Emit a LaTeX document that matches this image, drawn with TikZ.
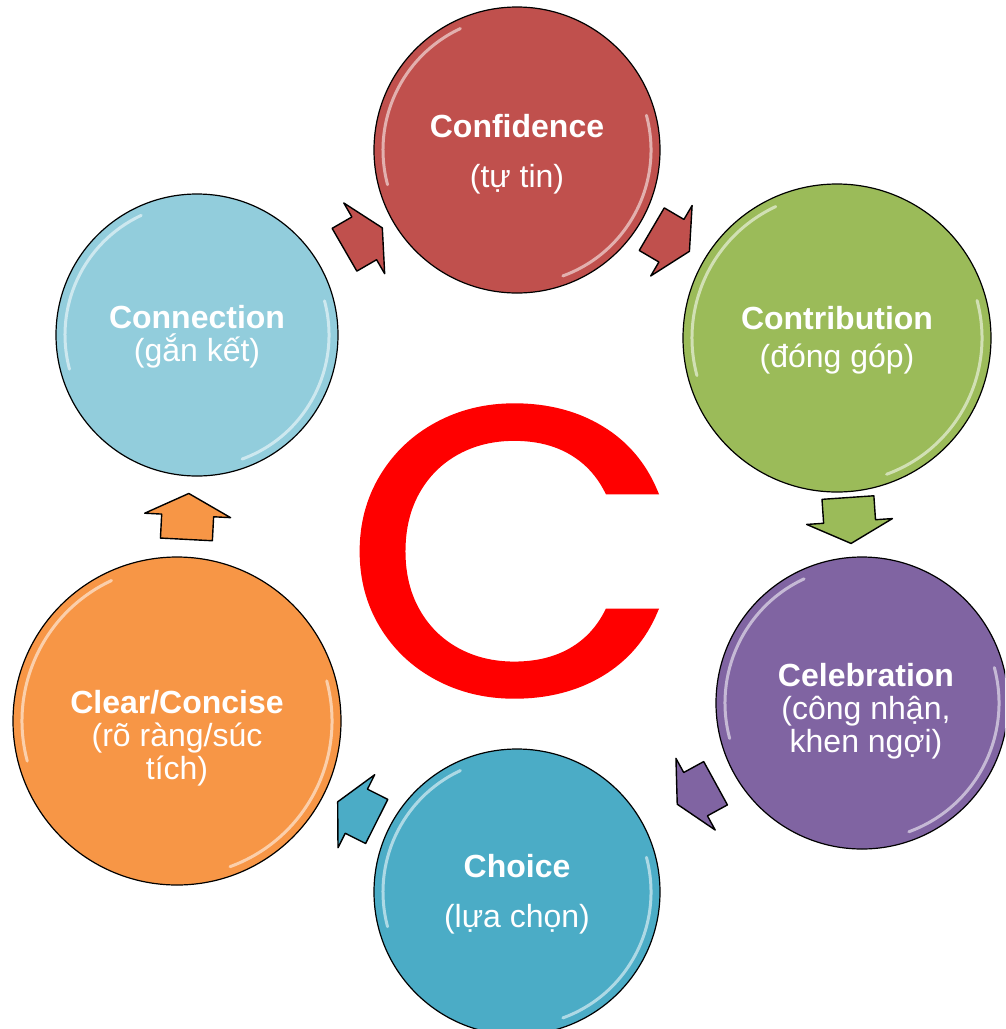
\documentclass[tikz,border=0pt]{standalone}
\usepackage{fontspec}
\setmainfont{Liberation Sans}
\newfontfamily\bigcfont[FakeBold=1.2]{Poppins}
\usepackage{tikz}
\usetikzlibrary{calc}
\definecolor{confred}{HTML}{C0504D}
\definecolor{contrgreen}{HTML}{9BBB59}
\definecolor{celebpurple}{HTML}{8064A2}
\definecolor{choiceblue}{HTML}{4BACC6}
\definecolor{clearorange}{HTML}{F79646}
\definecolor{connblue}{HTML}{92CDDC}
\definecolor{bigred}{RGB}{255, 0, 0}

\begin{document}
\begin{tikzpicture}[
    x=1pt, y=-1pt,
    bubble/.style={circle, draw=black, line width=1.2pt, inner sep=0pt},
    caption/.style={text=white, align=center, inner sep=0pt, font=\fontsize{32}{33}\selectfont},
    gloss/.style={draw=white, opacity=0.55, line width=3pt, line cap=round},
    arrowbox/.style={draw=black, line width=1.4pt, line join=round},
    pics/blockarr/.style={code={
        \draw[pic actions] (-23,-26) -- (1,-26) -- (1,-43) -- (23,0) -- (1,43) -- (1,26) -- (-23,26) -- cycle;}}
]

\clip (0,0) rectangle (1005,1029);

% the six circles
\node[bubble, fill=confred, minimum size=286pt] (conf) at (517,150) {};
\node[bubble, fill=contrgreen, minimum size=308pt] (contr) at (837,338) {};
\node[bubble, fill=celebpurple, minimum size=292pt] (celeb) at (862,703) {};
\node[bubble, fill=choiceblue, minimum size=286pt] (choice) at (517,892) {};
\node[bubble, fill=clearorange, minimum size=328pt] (clear) at (177,721) {};
\node[bubble, fill=connblue, minimum size=282pt] (conn) at (197,335) {};

% shine
\foreach \n/\r in {conf/134, contr/145, celeb/137, choice/134, clear/155, conn/132} {
    \draw[gloss] ([shift={(115:\r pt)}]\n.center) arc[start angle=115, end angle=195, radius=\r pt];
    \draw[gloss] ([shift={(-70:\r pt)}]\n.center) arc[start angle=-70, end angle=15, radius=\r pt];
}

% texts
\node[caption] (conftxt) at ([yshift=-4pt]conf.center) {\textbf{Confidence}\\[17pt](tự tin)};
\node[caption] (contrtxt) at ([yshift=-2pt]contr.center) {\textbf{Contribution}\\[5pt](đóng góp)};
\node[caption] (celebtxt) at ([xshift=4pt, yshift=-8pt]celeb.center) {\textbf{Celebration}\\(công nhận,\\khen ngợi)};
\node[caption] (choicetxt) at ([yshift=-2pt]choice.center) {\textbf{Choice}\\[17pt](lựa chọn)};
\node[caption] (cleartxt) at ([yshift=-17pt]clear.center) {\textbf{Clear/Concise}\\(rõ ràng/súc\\tích)};
\node[caption] (conntxt) at ([yshift=-2pt]conn.center) {\textbf{Connection}\\(gắn kết)};

% block arrows between the circles
\path let \p1 = ($(conf)-(conn)$), \n1 = {atan2(\y1,\x1)} in
    ($(conn)!0.52!(conf)$) pic[rotate=\n1, scale=0.95, arrowbox, fill=confred] {blockarr};
\path let \p1 = ($(contr)-(conf)$), \n1 = {atan2(\y1,\x1)} in
    ($(conf)!0.48!(contr)$) pic[rotate=\n1, scale=0.95, arrowbox, fill=confred] {blockarr};
\path let \p1 = ($(celeb)-(contr)$), \n1 = {atan2(\y1,\x1)} in
    ($(contr)!0.5!(celeb)$) pic[rotate=\n1, arrowbox, fill=contrgreen] {blockarr};
\path let \p1 = ($(choice)-(celeb)$), \n1 = {atan2(\y1,\x1)} in
    ($(celeb)!0.48!(choice)$) pic[rotate=\n1, scale=0.95, arrowbox, fill=celebpurple] {blockarr};
\path let \p1 = ($(clear)-(choice)$), \n1 = {atan2(\y1,\x1)} in
    ($(choice)!0.47!(clear)$) pic[rotate=\n1, scale=0.95, arrowbox, fill=choiceblue] {blockarr};
\path let \p1 = ($(conn)-(clear)$), \n1 = {atan2(\y1,\x1)} in
    ($(clear)!0.53!(conn)$) pic[rotate=\n1, arrowbox, fill=clearorange] {blockarr};

% big letter in the middle
\node[text=bigred, inner sep=0pt, xscale=1.07, font=\bigcfont\fontsize{408}{408}\selectfont] (bigc) at (512,551) {C};

\end{tikzpicture}
\end{document}
